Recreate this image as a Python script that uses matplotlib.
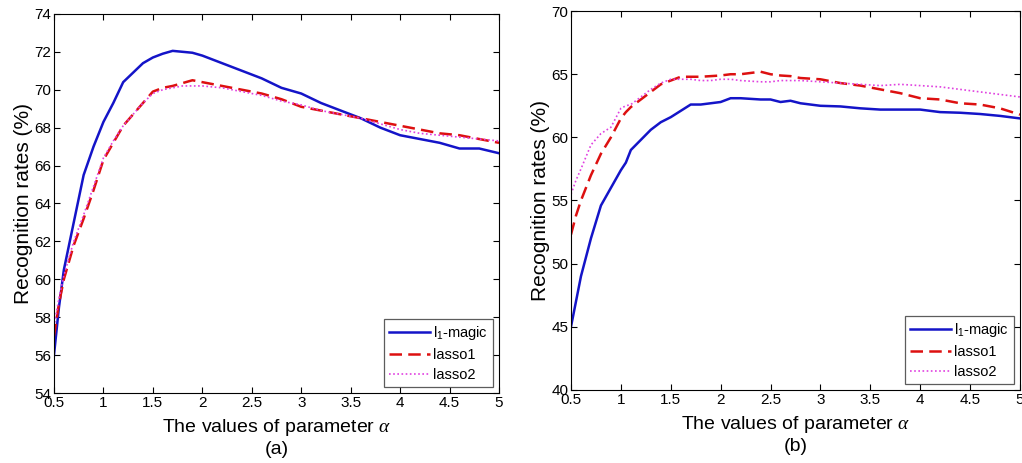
import matplotlib.pyplot as plt

plt.rcParams['font.family'] = ['Liberation Sans', 'DejaVu Sans']
plt.rcParams['mathtext.fontset'] = 'custom'
plt.rcParams['mathtext.rm'] = 'Liberation Sans'
plt.rcParams['mathtext.it'] = 'Liberation Serif:italic'

# (a)
xa = [0.5, 0.55, 0.6, 0.7, 0.8, 0.9, 1.0, 1.1, 1.2, 1.3, 1.4, 1.5, 1.6, 1.7, 1.8, 1.9, 2.0,
      2.2, 2.4, 2.6, 2.8, 3.0, 3.2, 3.4, 3.6, 3.8, 4.0, 4.2, 4.4, 4.6, 4.8, 5.0]
a_l1 = [56.0, 58.5, 60.5, 63.0, 65.5, 67.0, 68.3, 69.3, 70.4, 70.9, 71.4, 71.7, 71.9, 72.05, 72.0, 71.95, 71.8,
        71.4, 71.0, 70.6, 70.1, 69.8, 69.3, 68.9, 68.5, 68.0, 67.6, 67.4, 67.2, 66.9, 66.9, 66.65]
a_lasso1 = [57.0, 58.7, 60.0, 61.8, 63.2, 64.7, 66.3, 67.2, 68.1, 68.7, 69.3, 69.9, 70.1, 70.2, 70.35, 70.5, 70.4,
            70.2, 70.0, 69.8, 69.5, 69.1, 68.9, 68.7, 68.5, 68.3, 68.1, 67.9, 67.7, 67.6, 67.4, 67.2]
a_lasso2 = [57.5, 59.0, 60.2, 62.0, 63.4, 64.9, 66.4, 67.3, 68.1, 68.7, 69.3, 69.8, 70.0, 70.1, 70.2, 70.2, 70.2,
            70.1, 69.9, 69.7, 69.4, 69.2, 68.9, 68.7, 68.5, 68.2, 67.9, 67.7, 67.6, 67.5, 67.4, 67.3]

# (b)
xb = [0.5, 0.55, 0.6, 0.7, 0.8, 0.9, 1.0, 1.05, 1.1, 1.2, 1.3, 1.4, 1.5, 1.6, 1.7, 1.8, 1.9, 2.0, 2.1,
      2.2, 2.4, 2.5, 2.6, 2.7, 2.8, 3.0, 3.2, 3.4, 3.6, 3.8, 4.0, 4.2, 4.4, 4.6, 4.8, 5.0]
b_l1 = [45.0, 47.0, 49.0, 52.0, 54.6, 56.0, 57.4, 58.0, 59.0, 59.8, 60.6, 61.2, 61.6, 62.1, 62.6, 62.6, 62.7, 62.8, 63.1,
        63.1, 63.0, 63.0, 62.8, 62.9, 62.7, 62.5, 62.45, 62.3, 62.2, 62.2, 62.2, 62.0, 61.95, 61.85, 61.7, 61.5]
b_lasso1 = [52.3, 53.8, 55.0, 57.0, 58.7, 60.0, 61.5, 62.0, 62.4, 63.0, 63.6, 64.2, 64.5, 64.8, 64.8, 64.8, 64.85, 64.9, 65.0,
            65.0, 65.2, 65.0, 64.9, 64.85, 64.7, 64.6, 64.3, 64.1, 63.8, 63.5, 63.1, 63.0, 62.7, 62.6, 62.3, 61.8]
b_lasso2 = [55.5, 56.6, 57.5, 59.4, 60.3, 60.8, 62.3, 62.5, 62.6, 63.2, 63.8, 64.3, 64.6, 64.6, 64.6, 64.5, 64.5, 64.6, 64.6,
            64.5, 64.4, 64.4, 64.5, 64.5, 64.5, 64.4, 64.3, 64.2, 64.1, 64.2, 64.1, 64.0, 63.8, 63.6, 63.4, 63.2]

xticks = [0.5, 1, 1.5, 2, 2.5, 3, 3.5, 4, 4.5, 5]
xticklabels = ['0.5', '1', '1.5', '2', '2.5', '3', '3.5', '4', '4.5', '5']

fig = plt.figure(figsize=(10.22, 4.63), dpi=100)
ax1 = fig.add_axes([0.0528, 0.151, 0.4355, 0.819])
ax2 = fig.add_axes([0.5587, 0.158, 0.4393, 0.818])

def draw(ax, x, l1, lasso1, lasso2, ylim, yticks, tag):
    ax.plot(x, l1, color='#1414c8', lw=1.8, label='l$_1$-magic')
    ax.plot(x, lasso1, color='#dd1010', lw=1.8, ls=(0, (5, 2.5)), label='lasso1')
    ax.plot(x, lasso2, color='#e040e0', lw=1.2, ls=(0, (1, 1.5)), label='lasso2')
    ax.set_xlim(0.5, 5)
    ax.set_ylim(*ylim)
    ax.set_xticks(xticks)
    ax.set_xticklabels(xticklabels)
    ax.set_yticks(yticks)
    ax.tick_params(direction='in', top=True, right=True, labelsize=11, length=4, pad=2)
    for s in ax.spines.values():
        s.set_linewidth(0.8)
    ax.set_ylabel('Recognition rates (%)', fontsize=15, labelpad=1)
    ax.set_xlabel('The values of parameter $\\alpha$\n(' + tag + ')', fontsize=14, labelpad=5,
                  linespacing=1.25)
    leg = ax.legend(loc='lower right', fontsize=10.5, frameon=True, fancybox=False,
                    edgecolor='#333333', borderaxespad=0.4, handlelength=2.8,
                    handletextpad=0.2, labelspacing=0.4, borderpad=0.35)
    leg.get_frame().set_linewidth(0.9)

draw(ax1, xa, a_l1, a_lasso1, a_lasso2, (54, 74), list(range(54, 75, 2)), 'a')
draw(ax2, xb, b_l1, b_lasso1, b_lasso2, (40, 70), list(range(40, 71, 5)), 'b')

fig.savefig('out.png', dpi=100)
